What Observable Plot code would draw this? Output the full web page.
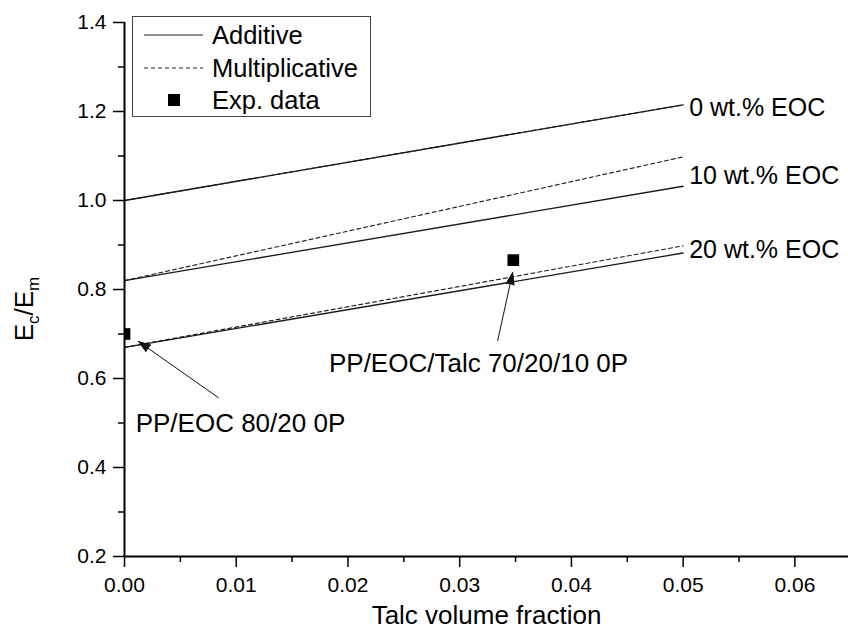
<!DOCTYPE html>
<html>
<head>
<meta charset="utf-8">
<script src="https://cdn.jsdelivr.net/npm/d3@7"></script>
<script src="https://cdn.jsdelivr.net/npm/@observablehq/plot@0.6"></script>
<style>
  body { margin: 0; background: #fff; }
  #wrap { position: relative; width: 848px; height: 636px; font-family: "Liberation Sans", Arial, sans-serif; }
  #legend { position: absolute; left: 132px; top: 16px; }
</style>
</head>
<body>
<div id="wrap"></div>
<script>
// ---- data ----
const talcFraction = [0, 0.05];
const eocLabels = ["0 wt.% EOC", "10 wt.% EOC", "20 wt.% EOC"];
const additive0 = [1.0, 1.215];
const additive10 = [0.82, 1.032];
const additive20 = [0.67, 0.882];
const multiplicative0 = [1.0, 1.215];
const multiplicative10 = [0.82, 1.098];
const multiplicative20 = [0.67, 0.898];
const eocLabelY = [1.208, 1.056, 0.888];

const expTalc = [0.0, 0.0348];
const expRatio = [0.70, 0.866];

const annotationText = ["PP/EOC 80/20 0P", "PP/EOC/Talc 70/20/10 0P"];
const annotationX = [0.001, 0.0183];
const annotationY = [0.498, 0.634];
const arrowFromX = [0.0084, 0.0334];
const arrowFromY = [0.557, 0.685];
const arrowToX = [0.00126, 0.03474];
const arrowToY = [0.683, 0.838];

const xMajorTicks = [0, 0.01, 0.02, 0.03, 0.04, 0.05, 0.06];
const xMinorTicks = [0.005, 0.015, 0.025, 0.035, 0.045, 0.055];
const yMajorTicks = [0.2, 0.4, 0.6, 0.8, 1.0, 1.2, 1.4];
const yMinorTicks = [0.3, 0.5, 0.7, 0.9, 1.1, 1.3];

const xTitle = "Talc volume fraction";
const legendItems = ["Additive", "Multiplicative", "Exp. data"];

// ---- tables ----
const additiveSets = [additive0, additive10, additive20];
const multSets = [multiplicative0, multiplicative10, multiplicative20];
const additiveRows = [], multRows = [];
eocLabels.forEach((lab, i) => {
  talcFraction.forEach((x, j) => {
    additiveRows.push({eoc: lab, x, y: additiveSets[i][j]});
    multRows.push({eoc: lab, x, y: multSets[i][j]});
  });
});
const expRows = expTalc.map((x, i) => ({x, y: expRatio[i]}));
const labelRows = eocLabels.map((t, i) => ({text: t, x: talcFraction[1], y: eocLabelY[i]}));
const annRows = annotationText.map((t, i) => ({text: t, x: annotationX[i], y: annotationY[i]}));
const arrowRows = arrowFromX.map((x, i) => ({x1: x, y1: arrowFromY[i], x2: arrowToX[i], y2: arrowToY[i]}));

const FONT = '"Liberation Sans", Arial, sans-serif';

const plot = Plot.plot({
  width: 848,
  height: 636,
  marginLeft: 124,
  marginRight: 0,
  marginTop: 22,
  marginBottom: 80,
  style: {fontFamily: FONT, fontSize: "21px", color: "black", background: "white"},
  x: {domain: [0, 0.0648]},
  y: {domain: [0.2, 1.4]},
  marks: [
    Plot.axisX({ticks: xMajorTicks, tickSize: 11, tickPadding: 10, tickFormat: d3.format(".2f"), label: null, fontSize: 21, strokeWidth: 1.5}),
    Plot.axisX({ticks: xMinorTicks, tickSize: 6, tickFormat: () => "", label: null, strokeWidth: 1.5}),
    Plot.axisY({ticks: yMajorTicks, tickSize: 11, tickPadding: 7, tickFormat: d3.format(".1f"), label: null, fontSize: 21, strokeWidth: 1.5}),
    Plot.axisY({ticks: yMinorTicks, tickSize: 6, tickFormat: () => "", label: null, strokeWidth: 1.5}),
    Plot.line(additiveRows, {x: "x", y: "y", z: "eoc", stroke: "#1a1a1a", strokeWidth: 1.3}),
    Plot.line(multRows, {x: "x", y: "y", z: "eoc", stroke: "#1a1a1a", strokeWidth: 1.1, strokeDasharray: "4,3"}),
    Plot.dot(expRows, {x: "x", y: "y", symbol: "square", r: 6.6, fill: "black", stroke: null, clip: true}),
    Plot.ruleX([0], {stroke: "black", strokeWidth: 2}),
    Plot.ruleY([0.2], {stroke: "black", strokeWidth: 2}),
    Plot.text(labelRows, {x: "x", y: "y", text: "text", textAnchor: "start", dx: 6, fontSize: 25, fill: "black"}),
    Plot.text(annRows, {x: "x", y: "y", text: "text", textAnchor: "start", fontSize: 26, fill: "black"}),
    Plot.arrow(arrowRows, {x1: "x1", y1: "y1", x2: "x2", y2: "y2", stroke: "#111", fill: "#111", strokeWidth: 1, headLength: 19, headAngle: 38, strokeLinejoin: "miter"}),
    Plot.text([xTitle], {frameAnchor: "bottom", dy: 67, fontSize: 26, fill: "black"})
  ]
});

// y-axis title with subscripts
const svgSel = d3.select(plot);
const yt = svgSel.append("text")
  .attr("transform", "translate(33,309) rotate(-90)")
  .attr("text-anchor", "middle")
  .attr("font-family", FONT)
  .attr("font-size", 26)
  .attr("fill", "black");
yt.append("tspan").text("E");
yt.append("tspan").attr("font-size", 17).attr("dy", 6).text("c");
yt.append("tspan").attr("dy", -6).text("/E");
yt.append("tspan").attr("font-size", 17).attr("dy", 6).text("m");

const wrap = document.getElementById("wrap");
wrap.appendChild(plot);

// legend box
const lg = d3.select(wrap).append("svg")
  .attr("id", "legend")
  .attr("width", 239).attr("height", 101)
  .style("font-family", FONT);
lg.append("rect").attr("x", 0.5).attr("y", 0.5).attr("width", 238).attr("height", 100)
  .attr("fill", "white").attr("stroke", "#444").attr("stroke-width", 1);
const rowsY = [19, 52, 84];
lg.append("line").attr("x1", 12).attr("x2", 71).attr("y1", rowsY[0]).attr("y2", rowsY[0])
  .attr("stroke", "#222").attr("stroke-width", 1.2);
lg.append("line").attr("x1", 12).attr("x2", 71).attr("y1", rowsY[1]).attr("y2", rowsY[1])
  .attr("stroke", "#222").attr("stroke-width", 1).attr("stroke-dasharray", "4,3");
lg.append("rect").attr("x", 36).attr("y", rowsY[2] - 6).attr("width", 12).attr("height", 12).attr("fill", "black");
legendItems.forEach((t, i) => {
  lg.append("text").attr("x", 80).attr("y", rowsY[i] + 9).attr("font-size", 25.5).attr("fill", "black").text(t);
});
</script>
</body>
</html>
